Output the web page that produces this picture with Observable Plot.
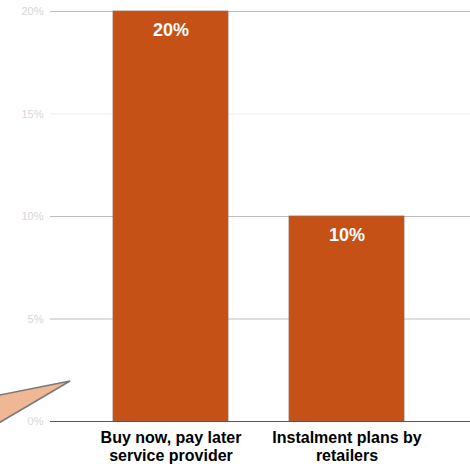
<!DOCTYPE html>
<html>
<head>
<meta charset="utf-8">
<script src="https://cdn.jsdelivr.net/npm/d3@7"></script>
<script src="https://cdn.jsdelivr.net/npm/@observablehq/plot@0.6"></script>
<style>
  html, body { margin: 0; padding: 0; background: #fff; }
  #chart svg { display: block; }
</style>
</head>
<body>
<div id="chart"></div>
<script>
const categories = ["Buy now, pay later service provider", "Instalment plans by retailers"];
const tickLabels = ["Buy now, pay later\nservice provider", "Instalment plans by\nretailers"];
const values = [20, 10];
const yTicks = [0, 5, 10, 15, 20];
// partial callout shape at the left edge (pixel points of a cropped decoration)
const calloutPoints = [[-20, 399], [70, 381], [-20, 434]];

const data = categories.map((c, i) => ({category: c, value: values[i]}));

const calloutMark = () => (index, scales, values, dims, context) => {
  const g = d3.create("svg:g");
  g.append("polygon")
    .attr("points", calloutPoints.map(p => p.join(",")).join(" "))
    .attr("fill", "#f0b794")
    .attr("stroke", "#7a7a7a")
    .attr("stroke-width", 1.6)
    .attr("stroke-linejoin", "miter");
  return g.node();
};

const chart = Plot.plot({
  width: 470,
  height: 464,
  marginLeft: 50,
  marginRight: 0,
  marginTop: 11,
  marginBottom: 43,
  style: {fontFamily: "'Liberation Sans', Arial, sans-serif", background: "#fff"},
  x: {domain: categories, paddingInner: 0.347, paddingOuter: 0.366, align: 0.488, label: null},
  y: {domain: [0, 20], label: null},
  marks: [
    Plot.ruleY(yTicks.filter(d => d > 0), {
      stroke: d => d === 15 ? "#eeeeee" : "#bdbdbd",
      strokeWidth: 1
    }),
    Plot.axisY(yTicks, {
      tickSize: 0,
      tickPadding: 7,
      tickFormat: d => d + "%",
      fill: "#d6d6d6",
      fontSize: 11,
      label: null
    }),
    Plot.barY(data, {
      x: "category",
      y: "value",
      fill: "#c65117",
      stroke: "#9c6a55",
      strokeWidth: 0.8
    }),
    Plot.text(data, {
      x: "category",
      y: "value",
      text: d => d.value + "%",
      fill: "#ffffff",
      fontSize: 18,
      fontWeight: "bold",
      dy: 19
    }),
    Plot.ruleY([0], {stroke: "#555555", strokeWidth: 1}),
    Plot.axisX({
      tickSize: 0,
      tickPadding: 9,
      tickFormat: d => tickLabels[categories.indexOf(d)],
      fontSize: 16,
      fontWeight: "bold",
      fill: "#000",
      label: null,
      lineHeight: 1.1
    }),
    calloutMark()
  ]
});

document.getElementById("chart").appendChild(chart);
</script>
</body>
</html>
